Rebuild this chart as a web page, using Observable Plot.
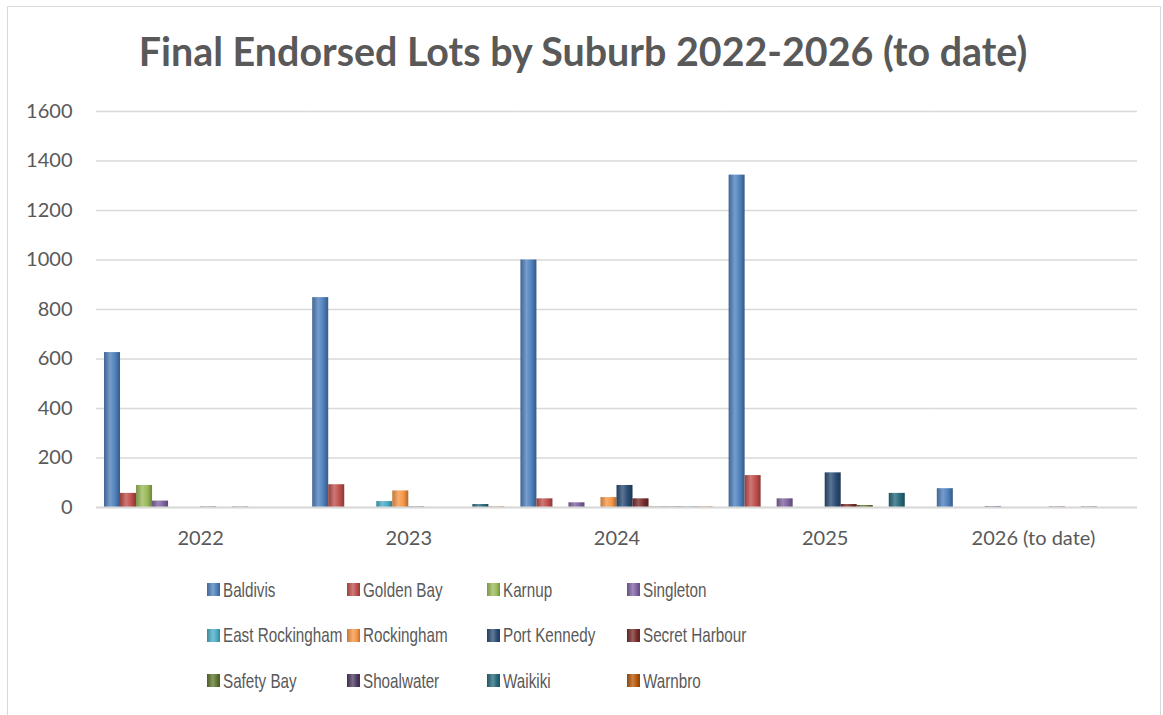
<!DOCTYPE html>
<html>
<head>
<meta charset="utf-8">
<script src="https://cdn.jsdelivr.net/npm/d3@7"></script>
<script src="https://cdn.jsdelivr.net/npm/@observablehq/plot@0.6"></script>
<style>
  html, body { margin: 0; padding: 0; background: #fff; overflow: hidden; }
  body { width: 1163px; height: 715px; position: relative; font-family: Lato, "Open Sans", sans-serif; }
  #frame { position: absolute; left: 7px; top: 6px; width: 1154px; height: 740px; border: 1px solid #d9d9d9; box-sizing: border-box; }
  #title { position: absolute; left: 3px; width: 1160px; top: 27px; text-align: center; font-size: 39.4px; line-height: 47px; font-weight: 700; color: #595959; }
  #chart { position: absolute; left: 2px; top: 90px; }
  #legend { position: absolute; left: 207px; top: 567px; display: grid; grid-template-columns: repeat(4, 140px); grid-auto-rows: 45.5px; }
  .item { display: flex; align-items: center; font-family: "Liberation Sans", Arial, sans-serif; font-size: 21px; color: #595959; white-space: nowrap; }
  .sw { width: 13px; height: 13px; margin-right: 3px; flex: none; }
  .lbl { display: inline-block; transform: scaleX(0.725); transform-origin: left center; }
</style>
</head>
<body>
<div id="frame"></div>
<div id="title">Final Endorsed Lots by Suburb 2022-2026 (to date)</div>
<div id="chart"></div>
<div id="legend"></div>
<script>
const years = ["2022", "2023", "2024", "2025", "2026 (to date)"];
const suburbs = ["Baldivis", "Golden Bay", "Karnup", "Singleton", "East Rockingham", "Rockingham",
  "Port Kennedy", "Secret Harbour", "Safety Bay", "Shoalwater", "Waikiki", "Warnbro"];
const colors = ["#4F81BD", "#C0504D", "#9BBB59", "#8064A2", "#4BACC6", "#F79646",
  "#2C4D75", "#772C2A", "#5F7530", "#4D3B62", "#276A7C", "#B65708"];
const yTicks = [0, 200, 400, 600, 800, 1000, 1200, 1400, 1600];

// values per suburb, in year order
const baldivis       = [626, 848, 1000, 1343, 76];
const goldenBay      = [57, 92, 35, 129, 0];
const karnup         = [89, 0, 0, 0, 0];
const singleton      = [26, 0, 19, 35, 4];
const eastRockingham = [0, 24, 0, 0, 0];
const rockingham     = [0, 67, 40, 0, 0];
const portKennedy    = [2, 2, 89, 140, 0];
const secretHarbour  = [0, 0, 35, 12, 2];
const safetyBay      = [2, 0, 2, 8, 0];
const shoalwater     = [0, 0, 2, 0, 2];
const waikiki        = [0, 12, 2, 57, 0];
const warnbro        = [0, 2, 2, 0, 0];
const series = [baldivis, goldenBay, karnup, singleton, eastRockingham, rockingham,
  portKennedy, secretHarbour, safetyBay, shoalwater, waikiki, warnbro];

const data = suburbs.flatMap((s, i) => years.map((y, j) => ({year: y, suburb: s, value: series[i][j], idx: i})));

// gradient defs for the Excel-like shaded bars
const mix = (c, t, k) => d3.interpolateRgb(c, t)(k);
const defs = d3.select("body").append("svg").attr("width", 0).attr("height", 0)
  .style("position", "absolute").append("defs");
colors.forEach((c, i) => {
  const g = defs.append("linearGradient").attr("id", "g" + i).attr("x1", 0).attr("x2", 1).attr("y1", 0).attr("y2", 0);
  [[0, mix(c, "#000", 0.22)], [0.38, mix(c, "#fff", 0.22)], [0.7, c], [1, mix(c, "#000", 0.3)]]
    .forEach(([o, col]) => g.append("stop").attr("offset", o).attr("stop-color", col));
});

const chart = Plot.plot({
  width: 1161,
  height: 465,
  marginLeft: 94,
  marginRight: 26,
  marginTop: 21,
  marginBottom: 48,
  style: {fontFamily: "Lato, 'Open Sans', sans-serif", fontSize: "20px", color: "#595959", background: "transparent", overflow: "visible"},
  fx: {domain: years, padding: 0, round: false, label: null, tickSize: 0, tickPadding: 23},
  x: {domain: suburbs, paddingInner: 0, paddingOuter: 0.5, round: false, axis: null},
  y: {domain: [0, 1600], ticks: yTicks, tickSize: 0, tickPadding: 24, label: null, tickFormat: d => String(d)},
  color: {type: "identity"},
  marks: [
    Plot.gridY(yTicks, {stroke: "#d9d9d9", strokeOpacity: 1, strokeWidth: 1.5}),
    Plot.barY(data, {fx: "year", x: "suburb", y: "value", fill: d => `url(#g${d.idx})`, insetLeft: 0, insetRight: 0}),
    Plot.ruleY([0], {stroke: "#d9d9d9", strokeWidth: 2})
  ]
});
document.getElementById("chart").appendChild(chart);

// legend
const legend = d3.select("#legend");
suburbs.forEach((s, i) => {
  const it = legend.append("div").attr("class", "item");
  const c = colors[i];
  it.append("span").attr("class", "sw")
    .style("background", `linear-gradient(90deg, ${mix(c, "#000", 0.2)} 0%, ${mix(c, "#fff", 0.25)} 45%, ${c} 75%, ${mix(c, "#000", 0.25)} 100%)`);
  it.append("span").attr("class", "lbl").text(s);
});
</script>
</body>
</html>
